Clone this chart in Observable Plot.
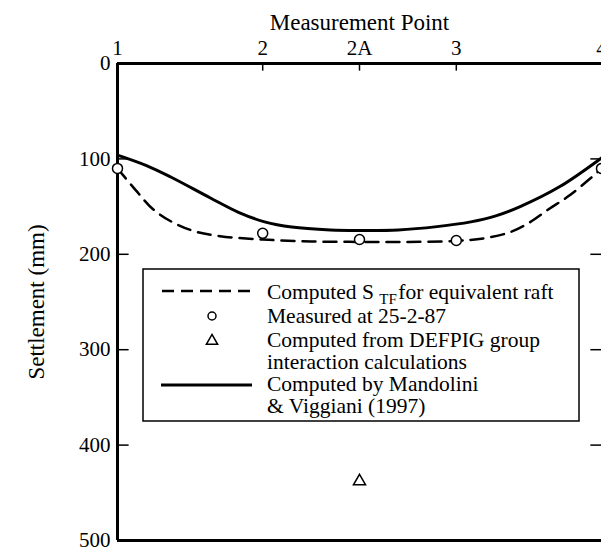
<!DOCTYPE html>
<html>
<head>
<meta charset="utf-8">
<script src="https://cdn.jsdelivr.net/npm/d3@7"></script>
<script src="https://cdn.jsdelivr.net/npm/@observablehq/plot@0.6"></script>
<style>
  body { margin: 0; background: #fff; }
  #chart svg { display: block; }
</style>
</head>
<body>
<div id="chart"></div>
<script>
// Measurement points along the section (position along the raft, labels on the top axis)
const pointPos = [0, 1.5, 2.5, 3.5, 5];
const pointLabels = ["1", "2", "2A", "3", "4"];

// Settlement axis ticks (mm)
const yTicks = [0, 100, 200, 300, 400, 500];
const innerTicks = [100, 200, 300, 400];

// Computed S_TF for equivalent raft (dashed)
const raftX = [0, 0.19, 0.37, 0.58, 0.8, 1.06, 1.5, 2.0, 2.5, 3.0, 3.5, 3.8, 4.05, 4.25, 4.45, 4.66, 4.89, 5];
const raftY = [110, 133, 153, 167, 176, 181, 184.5, 186.5, 187, 187, 186, 183, 177, 167, 153, 139, 120, 110];

// Computed by Mandolini & Viggiani (1997) (solid)
const mvX = [0, 0.3, 0.55, 0.96, 1.25, 1.52, 1.8, 2.2, 2.5, 2.9, 3.3, 3.65, 3.9, 4.16, 4.57, 5];
const mvY = [96, 107, 119, 141, 156, 166, 171.5, 174.5, 175, 174.5, 171, 166, 160, 150, 129, 99];

// Measured at 25-2-87
const measuredX = [0, 1.5, 2.5, 3.5, 5];
const measuredY = [110, 178, 184.5, 185.5, 110];

// Computed from DEFPIG group interaction calculations
const defpigX = [2.5];
const defpigY = [438];

const raft = raftX.map((x, i) => ({x, y: raftY[i]}));
const mv = mvX.map((x, i) => ({x, y: mvY[i]}));
const measured = measuredX.map((x, i) => ({x, y: measuredY[i]}));
const defpig = defpigX.map((x, i) => ({x, y: defpigY[i]}));

const font = "'Liberation Serif', 'Times New Roman', serif";

const chart = Plot.plot({
  width: 601,
  height: 550,
  marginLeft: 117,
  marginRight: 0,
  marginTop: 63,
  marginBottom: 10,
  style: {fontFamily: font, fontSize: "21px", color: "black", background: "white", overflow: "visible"},
  x: {domain: [0, 5]},
  y: {domain: [0, 500], reverse: true},
  marks: [
    Plot.axisX({
      anchor: "top", ticks: pointPos, label: null,
      tickFormat: d => pointLabels[pointPos.indexOf(d)],
      tickSize: 0, tickPadding: 9, fontSize: 21, fontFamily: font
    }),
    Plot.axisX({
      anchor: "top", ticks: [], tickSize: 0, fontSize: 23, fontFamily: font,
      label: "Measurement Point", labelAnchor: "center", labelOffset: 50, labelArrow: false
    }),
    Plot.axisY({
      anchor: "left", ticks: yTicks, label: null, tickSize: 0, tickPadding: 7, fontSize: 21, fontFamily: font
    }),
    Plot.axisY({
      anchor: "left", ticks: [], tickSize: 0, fontSize: 23, fontFamily: font,
      label: "Settlement (mm)", labelAnchor: "center", labelOffset: 90, labelArrow: false
    }),
    // inward tick marks on the frame
    Plot.ruleX(pointPos.slice(1, 4), {y1: 0, y2: 8, stroke: "black", strokeWidth: 1.5}),
    Plot.ruleY(innerTicks, {x1: 0, x2: 0.12, stroke: "black", strokeWidth: 1.5}),
    Plot.ruleY(innerTicks, {x1: 4.89, x2: 5, stroke: "black", strokeWidth: 1.5}),
    // frame: left, top, bottom
    Plot.ruleX([0], {stroke: "black", strokeWidth: 3}),
    Plot.ruleY([0, 500], {stroke: "black", strokeWidth: 3}),
    Plot.line(raft, {x: "x", y: "y", curve: "catmull-rom", stroke: "black", strokeWidth: 2.5, strokeDasharray: "13,8"}),
    Plot.line(mv, {x: "x", y: "y", curve: "catmull-rom", stroke: "black", strokeWidth: 3}),
    Plot.dot(measured, {x: "x", y: "y", r: 5, fill: "white", stroke: "black", strokeWidth: 1.5}),
    Plot.dot(defpig, {x: "x", y: "y", r: 4.5, symbol: "triangle", fill: "white", stroke: "black", strokeWidth: 1.5})
  ]
});

document.getElementById("chart").appendChild(chart);

// Legend box inside the plot area
const svg = d3.select(chart);
const lg = svg.append("g")
  .attr("font-family", font).attr("font-size", 21.5)
  .attr("fill", "black").attr("text-anchor", "start");
lg.append("rect").attr("x", 143).attr("y", 269).attr("width", 436).attr("height", 152)
  .attr("fill", "white").attr("stroke", "black").attr("stroke-width", 1.5);

const tx = 267;
lg.append("line").attr("x1", 162).attr("x2", 250).attr("y1", 291).attr("y2", 291)
  .attr("stroke", "black").attr("stroke-width", 2.5).attr("stroke-dasharray", "12,7");
const t1 = lg.append("text").attr("x", tx).attr("y", 299);
t1.append("tspan").text("Computed S ");
t1.append("tspan").attr("font-size", 15).attr("dy", 5).text("TF");
t1.append("tspan").attr("dy", -5).attr("dx", 1.5).text("for equivalent raft");

lg.append("circle").attr("cx", 212).attr("cy", 316).attr("r", 4)
  .attr("fill", "white").attr("stroke", "black").attr("stroke-width", 1.5);
lg.append("text").attr("x", tx).attr("y", 323).text("Measured at 25-2-87");

lg.append("path").attr("transform", "translate(212,341)")
  .attr("d", d3.symbol(d3.symbolTriangle, 55)())
  .attr("fill", "white").attr("stroke", "black").attr("stroke-width", 1.5);
lg.append("text").attr("x", tx).attr("y", 347).text("Computed from DEFPIG group");
lg.append("text").attr("x", tx).attr("y", 369).text("interaction calculations");

lg.append("line").attr("x1", 161).attr("x2", 252).attr("y1", 385).attr("y2", 385)
  .attr("stroke", "black").attr("stroke-width", 3);
lg.append("text").attr("x", tx).attr("y", 391).text("Computed by Mandolini");
lg.append("text").attr("x", tx).attr("y", 413).text("& Viggiani (1997)");
</script>
</body>
</html>
